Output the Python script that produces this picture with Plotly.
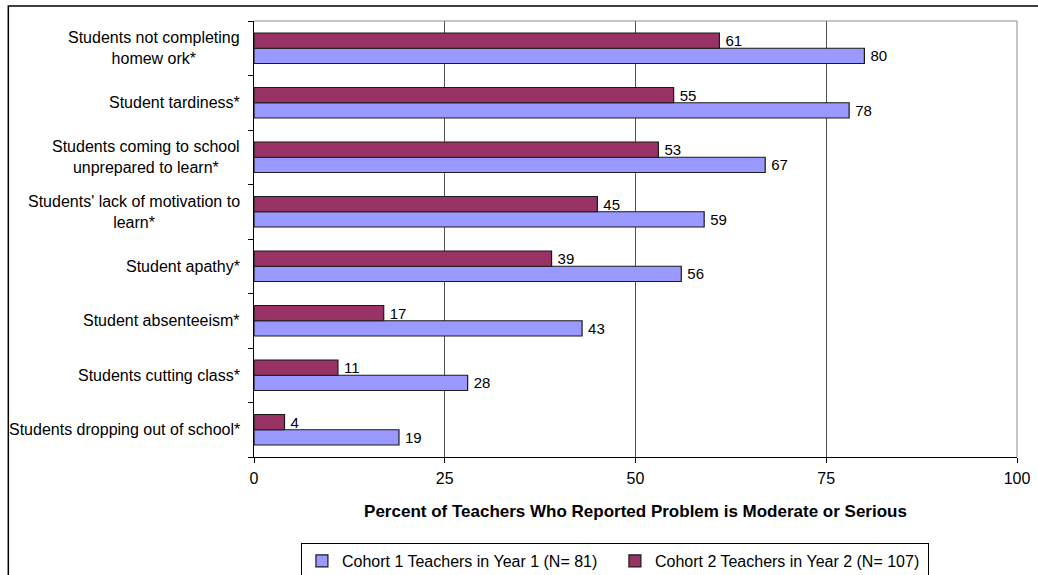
import plotly.graph_objects as go

# Problem categories, listed bottom to top of the chart
categories = [
    "Students dropping out of school*",
    "Students cutting class*",
    "Student absenteeism*",
    "Student apathy*",
    "Students' lack of motivation to<br>learn*",
    "Students coming to school<br>unprepared to learn*",
    "Student tardiness*",
    "Students not completing<br>homew ork*",
]
cohort1_year1 = [19, 28, 43, 56, 59, 67, 78, 80]
cohort2_year2 = [4, 11, 17, 39, 45, 53, 55, 61]
series_names = ["Cohort 1 Teachers in Year 1 (N= 81)", "Cohort 2 Teachers in Year 2 (N= 107)"]
x_ticks = [0, 25, 50, 75, 100]

ARIAL = "Liberation Sans, Arial, sans-serif"

fig = go.Figure()
for name, vals, color in [
    (series_names[0], cohort1_year1, "#9999FF"),
    (series_names[1], cohort2_year2, "#993366"),
]:
    fig.add_trace(go.Bar(
        y=categories, x=vals, name=name, orientation="h",
        marker=dict(color=color, line=dict(color="#1a1a1a", width=1.2)),
        text=vals, texttemplate="\u2009%{x}", textposition="outside",
        cliponaxis=False, constraintext="none",
        textfont=dict(family=ARIAL, size=15, color="black"),
    ))

# category labels drawn as centred multi-line text, right aligned to the axis
for c in categories:
    fig.add_annotation(
        x=-0.0157, xref="paper", y=c, yref="y", text=c, showarrow=False,
        xanchor="right", align="center",
        font=dict(family=ARIAL, size=16, color="black"),
    )

# plot-area border (top/right) and outer frame
fig.add_shape(type="path", xref="paper", yref="paper",
              path="M 0 1 L 1 1 L 1 0", line=dict(color="#8c8c8c", width=1))
fig.add_shape(type="path", xref="paper", yref="paper",
              path="M -0.322 -0.4 L -0.322 1.0344 L 1.1 1.0344",
              line=dict(color="black", width=1.5))

fig.update_layout(
    width=1038, height=575,
    margin=dict(l=254, r=21, t=21, b=118),
    paper_bgcolor="white", plot_bgcolor="white",
    barmode="group", bargap=0.44, bargroupgap=0,
    showlegend=True,
    legend=dict(
        orientation="h", x=0.0615, xanchor="left",
        yref="container", y=0.0557, yanchor="top",
        entrywidth=268,
        bordercolor="black", borderwidth=1,
        font=dict(family=ARIAL, size=16, color="black"),
    ),
    xaxis=dict(
        range=[0, 100], tickvals=x_ticks, ticks="outside", ticklen=5,
        tickcolor="black", showline=True, linecolor="black", linewidth=1,
        showgrid=True, gridcolor="#505050", gridwidth=1, zeroline=False,
        automargin=False, ticklabelstandoff=2,
        tickfont=dict(family=ARIAL, size=16, color="black"),
        title=dict(text="<b>Percent of Teachers Who Reported Problem is Moderate or Serious</b>",
                   font=dict(family=ARIAL, size=17, color="black"), standoff=18),
    ),
    yaxis=dict(
        showticklabels=False, ticks="outside", ticklen=5, tickcolor="black",
        tickson="boundaries", showline=True, linecolor="black", linewidth=1,
        showgrid=False, automargin=False,
    ),
)

fig.write_html("out.html")
